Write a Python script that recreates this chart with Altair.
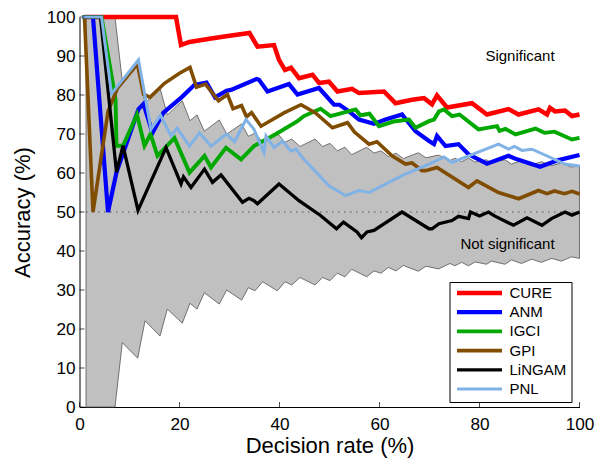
import altair as alt
import pandas as pd

# ---------------- data ----------------
series = ["CURE", "ANM", "IGCI", "GPI", "LiNGAM", "PNL"]
colors = ["#ff0000", "#0000ff", "#00a800", "#7f4c00", "#000000", "#80b2e6"]
widths = [4.5, 3, 3, 3, 3, 3]

cure_x = [1, 19.3, 20.3, 22, 26, 30, 34, 35.6, 38.9, 39.9, 41.1, 42.3, 43.9, 46.6, 47.9, 49.9, 51.6, 54.5,
          55.9, 60.9, 63.2, 66.5, 68.9, 70.5, 71.5, 73.5, 78.5, 81.5, 85.8, 87.8, 91.8, 93.5, 94.1, 95.1,
          97.1, 98.5, 100]
cure_y = [100, 100, 92.8, 93.6, 94.4, 95.2, 95.9, 92.4, 92.8, 89, 86.4, 87, 84.3, 85.2, 83.1, 83.4, 80.9, 81.6,
          80.5, 80.9, 77.9, 78.8, 79.2, 77.6, 79.9, 76.8, 77.9, 75, 76.4, 75, 76.3, 75, 76.7, 75.8,
          76, 74.6, 75]

anm_x = [0.5, 2.7, 5.7, 7.4, 11.8, 12.8, 14.6, 16.8, 20.4, 23, 25.4, 27.1, 29.4, 30.3, 35.4, 35.9, 37.6, 41.9,
         43.6, 47.9, 50.9, 52, 53.9, 55.9, 58.9, 61.2, 64.5, 67.2, 69.9, 70.9, 71.5, 73.2, 75.8, 77.8,
         81.5, 85.8, 87.5, 92.1, 95.8, 100]
anm_y = [100, 100, 50, 60.2, 76.4, 77.7, 70.3, 75.5, 79.4, 82.6, 83.2, 79.4, 81.1, 81.3, 84.1, 83.9, 80.9, 82.8,
         80.1, 81.8, 77.5, 77.5, 75.8, 73.7, 72.6, 73.7, 75, 70.7, 68.2, 67.4, 69.5, 66.9, 67.4, 64.8,
         62.4, 64.4, 63.5, 61.6, 63.3, 64.6]

igci_x = [0.5, 4.4, 7.2, 7.4, 8.7, 11.5, 13, 14.2, 15.6, 19, 22, 25, 26.3, 29.3, 32.3, 34.9, 39.3, 43.6, 44.9,
          48.2, 50.2, 55.2, 56.2, 58, 59.9, 62.8, 65.9, 67.2, 69.9, 70.9, 71.9, 72.9, 74.5, 76, 79.8, 83.5,
          84, 85.2, 87.2, 91.2, 93, 95, 98.5, 100]
igci_y = [100, 100, 79, 67, 67, 75, 67, 70, 64.4, 69, 60.1, 64.4, 61.4, 66.5, 63.5, 66.9, 70, 73.3, 74.6,
          76.5, 74.6, 76.3, 74.8, 75.2, 72, 73.2, 73.7, 71.6, 73.3, 73.7, 75.8, 76.3, 74.6, 75, 71.2, 72,
          70.8, 71.3, 69.9, 71.4, 70.3, 70.6, 68.6, 69]

gpi_x = [1, 2.7, 5.7, 7.6, 11.6, 12.8, 14.1, 17, 20, 22.1, 23.4, 25.2, 27.8, 29.6, 30.7, 32.4, 33.4, 34.4,
         36.3, 40.9, 44.3, 47.2, 50.6, 53.6, 55, 57.9, 59.5, 62.5, 65.2, 66.5, 68.5, 69.2, 71.5, 77.8,
         79.5, 83.8, 87.8, 91.8, 93.5, 95, 97, 98.5, 100]
gpi_y = [100, 50, 75.8, 81.8, 88, 80.2, 79.4, 83, 85.6, 87.1, 82, 82.8, 78.5, 80.1, 76.5, 77.3, 74.4, 75.5,
         72, 75.4, 77.5, 75.4, 71.6, 72.9, 70.5, 67.4, 68, 64.4, 62.3, 62.6, 60.6, 60.6, 61.4, 56.3,
         58, 55, 53.4, 55.5, 54.7, 55.4, 54.7, 55.3, 54.6]

lingam_x = [0.5, 4.2, 7.4, 8.7, 11.7, 17.3, 20.3, 20.8, 22.3, 25, 26.6, 28.3, 32.6, 33.9, 34.9, 35.6, 39.9,
            43.9, 48.2, 51.4, 52.8, 55.5, 56.4, 57.5, 58.9, 64.5, 69.9, 70.5, 71.9, 74.5, 75.8, 77.8, 78.2,
            80, 81.8, 83, 86.8, 89.5, 92.5, 94.4, 97.1, 98.5, 100]
lingam_y = [100, 100, 60.2, 67, 50.4, 66.5, 57.2, 59, 56.3, 61, 57.6, 59.5, 52.5, 53.5, 52.9, 52.1, 57.2,
            52.9, 49.1, 45.7, 47.4, 44.9, 43.4, 44.9, 45.3, 50, 45.7, 45.7, 47, 47.8, 48.9, 48.3, 50,
            49, 50, 49, 46.6, 48.5, 46.6, 48.3, 50, 49.2, 50]

pnl_x = [0.5, 4.4, 6.4, 11.8, 14.3, 16.2, 18.3, 19.5, 22, 24, 26.3, 29.4, 31, 33.3, 34.9, 36.9, 37.3, 38.9,
         40.6, 42.3, 43.3, 44.6, 49.9, 53.2, 55.9, 57.9, 60.5, 64.5, 69.9, 72.9, 74.5, 83.8, 85.8, 87,
         88.5, 90.5, 97.1, 100]
pnl_y = [100, 100, 80.3, 89, 71.2, 74.8, 69.5, 71.5, 66.9, 70.3, 66.9, 70, 68, 73.7, 71.2, 65.2, 69.5, 66.5,
         68.2, 65.6, 66.2, 63.9, 56.7, 54.2, 55.5, 55, 56.7, 59.3, 62.3, 64.1, 62.7, 67.4, 66.1, 66.8,
         65.8, 66.1, 62.3, 61.8]

band_x = [1.3, 7.1, 8.56, 11.64, 13.1, 16.1, 17.56, 20.56, 22.1, 23.5, 24.96, 27.96, 29.44, 32.44, 33.76,
          35.1, 36.64, 39.56, 41.1, 42.44, 44.1, 47.1, 48.64, 50.1, 51.56, 53.1, 54.44, 57.44, 58.9, 60.3,
          61.76, 63.3, 64.76, 67.76, 69.3, 71.8, 74.1, 75.1, 76.4, 77.8, 79.1, 81.4, 82.4, 85.1, 86.4,
          88.4, 90.4, 92.4, 94.4, 96.4, 98.4, 100]
band_lo = [0, 0, 16.5, 12.5, 22.1, 18.2, 25.1, 21.5, 26.6, 25.1, 29.3, 26.4, 30.0, 27.4, 30.6,
           29.8, 32.1, 29.8, 32.1, 31.3, 33.2, 31.3, 33.2, 32.4, 34.3, 33.4, 35.3, 33.4, 34.9, 34.3,
           35.8, 34.9, 36.3, 34.8, 36.1, 35.4, 36.8, 36.2, 37.1, 36.2, 37.2, 36.6, 37.4, 36.6, 37.7,
           36.8, 37.9, 37.1, 38.1, 37.4, 38.5, 38.1]
band_hi = [100, 100, 83.5, 87.5, 77.9, 81.8, 74.9, 78.5, 73.4, 74.9, 70.7, 73.6, 70.0, 72.6, 69.4,
           70.2, 67.9, 70.2, 67.9, 68.7, 66.8, 68.7, 66.8, 67.6, 65.7, 66.6, 64.7, 66.6, 65.1, 65.7,
           64.2, 65.1, 63.7, 65.2, 63.9, 64.6, 63.2, 63.8, 62.9, 63.8, 62.8, 63.4, 62.6, 63.4, 62.3,
           63.2, 62.1, 62.9, 61.9, 62.6, 61.5, 61.9]

chance_level = [50]
x_ticks = [0, 20, 40, 60, 80, 100]
y_ticks = [0, 10, 20, 30, 40, 50, 60, 70, 80, 90, 100]

notes = ["Significant", "Not significant"]
note_x = [88.1, 85.6]
note_y = [90.0, 41.7]

# ---------------- tables ----------------
xs = [cure_x, anm_x, igci_x, gpi_x, lingam_x, pnl_x]
ys = [cure_y, anm_y, igci_y, gpi_y, lingam_y, pnl_y]
rows = []
for s, sx, sy in zip(series, xs, ys):
    for i, (a, b) in enumerate(zip(sx, sy)):
        rows.append({"series": s, "x": a, "y": b, "i": i})
lines_df = pd.DataFrame(rows)
band_df = pd.DataFrame({"x": band_x, "lo": band_lo, "hi": band_hi})
chance_df = pd.DataFrame({"y": chance_level})
xt_df = pd.DataFrame({"v": x_ticks})
yt_df = pd.DataFrame({"v": y_ticks})
notes_df = pd.DataFrame({"t": notes, "x": note_x, "y": note_y})

W, H = 500, 390
FONT = "Liberation Sans"

xscale = alt.Scale(domain=[0, 100], nice=False)
yscale = alt.Scale(domain=[0, 100], nice=False)

x_axis = alt.Axis(values=x_ticks, title="Decision rate (%)", ticks=False, grid=False,
                  domainColor="black", labelFont=FONT, labelFontSize=17.2, labelColor="black",
                  labelPadding=8, labelOverlap=False, titleFont=FONT, titleFontSize=22,
                  titleFontWeight="normal", titleColor="black", titlePadding=3, labelFlush=False)
y_axis = alt.Axis(values=y_ticks, title="Accuracy (%)", ticks=False, grid=False,
                  domainColor="black", labelFont=FONT, labelFontSize=17.2, labelColor="black",
                  labelPadding=4.5, labelOverlap=False, titleFont=FONT, titleFontSize=22,
                  titleFontWeight="normal", titleColor="black", titlePadding=12, labelFlush=False)


def X(field):
    return alt.X(field, scale=xscale, axis=x_axis, title="Decision rate (%)")


def Y(field):
    return alt.Y(field, scale=yscale, axis=y_axis, title="Accuracy (%)")


band = alt.Chart(band_df).mark_area(
    color="#c0c0c0", stroke="#555555", strokeWidth=0.8, opacity=1
).encode(x=X("x:Q"), y=Y("lo:Q"), y2="hi:Q")

chance = alt.Chart(chance_df).mark_rule(
    color="#555555", strokeDash=[1.5, 4.5], strokeWidth=1
).encode(y=Y("y:Q"))

lines = alt.Chart(lines_df).mark_line(strokeJoin="miter", strokeCap="butt").encode(
    x=X("x:Q"),
    y=Y("y:Q"),
    color=alt.Color("series:N", sort=series,
                    scale=alt.Scale(domain=series, range=colors),
                    legend=alt.Legend(title=None, orient="none", legendX=370, legendY=265,
                                      symbolType="stroke", symbolSize=2025, symbolStrokeWidth=4,
                                      labelFont=FONT, labelFontSize=15, labelColor="black",
                                      labelOffset=5, padding=5, clipHeight=12, rowPadding=4.2,
                                      strokeColor="black", fillColor="white", cornerRadius=0)),
    strokeWidth=alt.StrokeWidth("series:N", scale=alt.Scale(domain=series, range=widths), legend=None),
    order="i:Q",
)

xticks = alt.Chart(xt_df).mark_tick(color="black", size=5, thickness=1).encode(
    x=X("v:Q"), y=alt.value(H - 2.5)
)
yticks = alt.Chart(yt_df).mark_tick(color="black", size=5, thickness=1).encode(
    y=Y("v:Q"), x=alt.value(2.5)
)

texts = alt.Chart(notes_df).mark_text(font=FONT, fontSize=15, color="black", align="center",
                                      baseline="middle").encode(
    x=X("x:Q"), y=Y("y:Q"), text="t:N"
)

chart = alt.layer(band, chance, lines, xticks, yticks, texts).properties(
    width=W, height=H,
    autosize=alt.AutoSizeParams(type="none"),
    padding={"left": 71.5, "top": 9, "right": 20, "bottom": 52},
).configure_view(stroke=None).configure_axis(domainWidth=1)

chart.save("out.html", embed_options={"renderer": "svg", "actions": False})
